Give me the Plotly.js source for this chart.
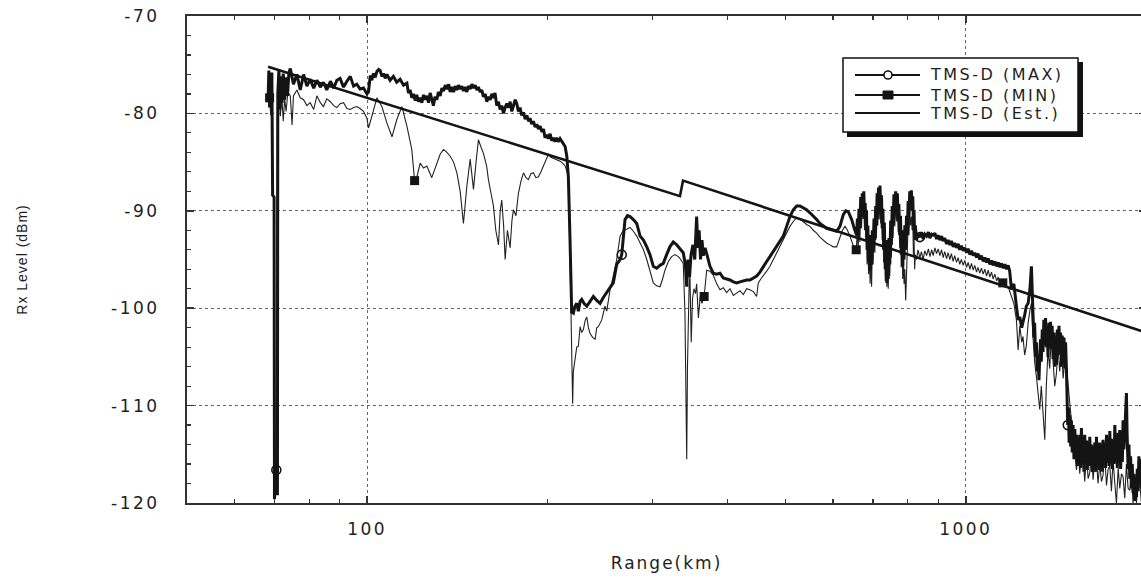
<!DOCTYPE html>
<html><head><meta charset="utf-8">
<script src="https://cdn.plot.ly/plotly-3.0.1.min.js"></script>
<style>
html,body{margin:0;padding:0;overflow:hidden;background:#fff;}
#chart{width:1150px;height:579px;}
.xtick text,.ytick text{letter-spacing:2.5px;}
.annotation-text{letter-spacing:2.5px;}
.g-xtitle text{letter-spacing:2px;}
.g-ytitle text{letter-spacing:1px;}
</style></head><body><div id="chart"></div><script>
// ---- data: [range km, level dBm] readings ----
const seriesNames = ['TMS-D (MAX)', 'TMS-D (MIN)', 'TMS-D (Est.)'];

const maxReadings = [
[68.3,-78.6],[68.5,-75.6],[68.7,-79.4],[68.9,-76.0],[69.1,-78.8],[69.3,-75.8],[69.5,-88.4],[69.9,-88.6],[70.0,-119.6],[70.3,-117.5],[70.5,-116.6],[70.8,-119.2],[70.9,-78.0],[71.2,-75.5],[71.5,-79.6],[71.8,-76.2],[72.1,-78.9],[72.4,-75.9],[72.8,-78.6],[73.2,-76.3],[73.6,-78.2],[74.0,-75.8],[74.4,-75.4],[75.3,-77.0],[76.3,-76.0],[77.3,-77.6],[78.3,-76.0],[79.3,-77.2],[80.3,-76.5],[81.4,-77.4],[82.4,-76.6],[83.5,-77.3],[84.5,-76.8],[85.6,-77.6],[86.8,-76.7],[87.9,-77.4],[89.0,-76.6],[90.1,-76.4],[91.3,-77.3],[92.5,-76.7],[93.7,-76.2],[94.9,-77.2],[96.1,-77.0],[97.3,-77.5],[98.6,-77.4],[99.9,-78.0],
[100.5,-77.8],[101.2,-76.1],[101.8,-76.6],[102.4,-75.9],[103.1,-76.3],[103.8,-75.7],[104.5,-75.5],[105.1,-75.6],[105.8,-76.2],[106.5,-75.9],[107.2,-76.4],[107.9,-76.0],[109.2,-76.6],[110.6,-76.2],[112.0,-76.8],[113.5,-76.5],[115.0,-77.1],[116.5,-76.9],[117.2,-77.9],[118.0,-77.6],[118.7,-78.4],[119.5,-78.0],[120.3,-78.7],[121.0,-78.1],[121.8,-78.8],[122.6,-78.4],[123.4,-78.9],[124.2,-78.1],[125.0,-78.6],[125.8,-78.2],[126.6,-78.9],[127.4,-77.9],[128.2,-78.7],[129.0,-79.2],[129.8,-78.3],[130.7,-78.6],[131.5,-77.8],[132.4,-78.2],[133.3,-77.4],[134.1,-77.7],[135.0,-77.1],[135.9,-77.5],[136.8,-77.0],[137.6,-77.8],[138.5,-77.3],[139.4,-77.8],[140.3,-77.2],[141.2,-77.6],[142.1,-77.1],[143.0,-77.5],[143.9,-77.2],[144.8,-77.7],[145.7,-77.3],[146.7,-77.8],[147.6,-77.2],[148.6,-77.5],[149.6,-77.0],[150.5,-77.4],[151.5,-77.1],[152.5,-77.6],[153.4,-77.3],[154.4,-77.8],[155.4,-77.6],[156.4,-78.3],[157.4,-78.0],[158.4,-78.8],[159.4,-78.3],[160.5,-78.6],[161.5,-78.0],[162.5,-78.4],[163.5,-77.9],[164.6,-79.2],[165.7,-78.8],[166.7,-79.6],[167.8,-79.2],[168.9,-80.0],[170.0,-79.4],[171.1,-79.0],[172.2,-79.4],[173.3,-78.8],[174.4,-79.8],[175.5,-79.2],[176.7,-78.6],[177.8,-79.0],[178.9,-79.8],[180.0,-79.4],[181.2,-80.2],[182.4,-79.9],[183.6,-80.6],[184.8,-80.2],[186.0,-80.8],[187.1,-80.5],[188.3,-81.1],[189.5,-80.8],[190.8,-81.4],[192.0,-81.1],[193.2,-81.6],[194.5,-81.3],[195.8,-81.9],[197.0,-81.6],[198.2,-82.5],[199.5,-82.2],[200.8,-82.6],[202.1,-82.1],[203.4,-82.8],[204.7,-82.5],[206.0,-82.9],[207.3,-82.5],[208.6,-82.9],[210.0,-82.6],[212.0,-83.0],[214.1,-83.4],[215.5,-84.4],[216.8,-86.5],
[218.2,-93.0],[219.6,-100.4],[221.0,-100.5],[222.4,-99.8],[223.9,-99.5],[225.3,-100.3],[226.8,-99.3],[228.2,-99.1],[230.2,-99.5],[232.7,-99.8],[235.7,-99.3],[238.7,-98.8],[241.8,-99.2],[244.9,-99.5],[248.0,-98.9],[251.3,-98.4],[254.5,-98.0],[257.7,-97.4],[261.1,-95.5],[264.5,-95.0],[266.2,-94.5],[268.0,-92.5],[269.6,-90.9],[272.2,-90.5],[274.9,-90.6],[278.4,-90.9],[282.0,-91.3],[285.7,-92.6],[289.4,-93.0],[293.1,-93.7],[296.8,-94.5],[300.6,-95.7],[304.5,-95.9],[308.4,-95.6],[312.3,-95.4],[316.4,-94.5],[320.4,-93.7],[324.6,-93.2],[328.9,-93.5],[333.0,-93.9],[337.3,-94.3],[340.0,-95.5],[341.8,-97.8],[343.5,-95.0],[345.5,-96.8],[347.5,-94.5],[350.1,-93.5],[352.5,-95.0],[355.1,-90.6],[356.8,-93.8],[358.5,-92.0],[360.5,-95.0],[362.5,-93.0],[364.3,-94.6],[366.7,-93.8],[369.1,-94.4],[373.8,-95.7],[378.6,-96.4],[383.6,-96.5],[388.5,-96.4],[393.4,-96.9],[398.6,-97.0],[403.7,-97.1],[408.9,-97.3],[414.2,-97.4],[419.5,-97.3],[424.9,-97.2],[430.4,-97.1],[435.9,-97.1],[441.6,-96.9],[447.3,-96.7],[453.0,-96.3],[458.8,-95.7],[464.8,-95.2],[470.8,-94.7],[476.9,-94.2],[483.1,-93.7],[489.3,-93.2],[495.5,-92.6],[502.0,-91.6],[508.4,-90.6],[515.0,-89.9],[521.7,-89.5],[528.4,-89.5],[535.1,-89.7],[542.0,-89.9],[549.1,-90.2],[556.2,-90.5],[563.4,-90.9],[570.6,-91.3],[577.9,-91.6],[585.3,-91.8],[592.9,-91.9],[600.6,-92.0],[608.5,-92.1],[616.3,-91.6],[620.2,-91.0],[624.2,-90.4],[630.2,-90.0],[636.3,-90.1],[640.5,-90.5],[644.7,-90.9],[651.0,-91.8],
[657.1,-92.5],[659.0,-90.8],[661.0,-92.6],[663.0,-89.8],[665.3,-91.8],[667.5,-88.6],[669.5,-90.6],[671.5,-88.2],[673.8,-89.5],[675.5,-88.0],[677.3,-90.8],[679.0,-89.2],[680.9,-91.5],[682.5,-90.0],[684.0,-94.0],[686.0,-91.5],[688.0,-95.2],[690.0,-92.5],[692.0,-96.1],[694.0,-93.0],[696.0,-95.5],[698.0,-92.0],[700.0,-94.2],[702.5,-90.8],[704.9,-93.0],[707.0,-89.5],[709.0,-91.5],[711.0,-88.2],[712.8,-90.2],[714.8,-87.6],[716.7,-89.6],[718.8,-87.4],[721.0,-90.0],[723.0,-88.4],[725.0,-91.8],[727.0,-89.8],[729.0,-94.0],[731.0,-91.2],[733.5,-96.0],[736.0,-93.0],[738.0,-97.4],[740.0,-94.0],[742.0,-97.0],[744.0,-92.8],[746.5,-95.5],[749.0,-91.0],[751.0,-93.5],[753.5,-89.5],[756.0,-91.5],[758.5,-88.3],[761.0,-90.3],[763.5,-88.0],[766.3,-89.8],[768.5,-88.2],[771.0,-90.9],[773.0,-89.3],[775.5,-92.5],[778.0,-90.5],[780.0,-94.5],[782.5,-92.0],[784.5,-95.7],[786.5,-92.8],[788.5,-95.0],[791.0,-91.5],[793.5,-94.0],[796.0,-90.5],[798.5,-92.5],[801.0,-89.0],[803.5,-90.8],[806.0,-88.0],[808.5,-90.0],[811.0,-87.9],[813.5,-89.8],[815.5,-88.5],[817.5,-91.5],[819.5,-90.0],[821.5,-93.0],[823.5,-91.5],[827.5,-93.0],
[832,-92.4],[838.1,-92.7],[843,-92.2],[848.8,-92.9],[854,-92.4],[860,-92.6],[866,-92.2],[871,-92.8],[877,-92.4],[882.1,-92.5],[888,-92.3],[893.7,-92.9],[899,-92.5],[905,-93.0],[911,-92.6],[916.6,-93.1],[922,-92.8],[928.7,-93.4],[934,-93.0],[940.5,-93.5],[946,-93.1],[952.5,-93.7],[958,-93.3],[965,-93.8],[971,-93.4],[977,-94.0],[983,-93.6],[990,-94.1],[996,-93.8],[1003,-94.3],[1009,-93.9],[1016,-94.5],[1022,-94.1],[1029,-94.6],[1035,-94.3],[1042,-94.8],[1048,-94.4],[1055,-95.0],[1062,-94.6],[1069,-95.2],[1076,-94.8],[1083,-95.3],[1090,-94.9],[1097,-95.5],[1104,-95.1],[1111,-95.6],[1118,-95.2],[1126,-95.7],[1133,-95.3],[1140,-95.8],[1147,-95.4],[1155,-95.9],[1162,-95.5],[1170,-96.0],[1177,-95.6],[1184,-96.2],
[1192,-98.1],[1203,-97.5],[1215,-99.8],[1223,-101.2],[1231,-100.9],[1240,-102.0],[1254,-100.7],[1262,-99.8],[1271,-99.5],[1280,-98.0],
[1287,-95.7],[1292,-98.5],[1295,-100.2],[1299,-103.0],[1303,-101.5],[1308,-105.0],[1312,-103.5],[1316,-106.5],[1320,-104.8],[1325,-107.4],[1329,-105.0],[1333,-103.2],[1337,-105.5],[1342,-102.2],[1346,-104.5],[1350,-101.2],[1355,-103.8],[1359,-101.0],[1364,-104.0],[1368,-101.8],[1372,-105.0],[1377,-101.5],[1381,-103.8],[1385,-101.4],[1390,-104.2],[1394,-101.8],[1399,-105.2],[1404,-102.5],[1408,-106.0],[1413,-103.0],[1417,-105.8],[1422,-102.2],[1426,-104.8],[1431,-101.8],[1435,-104.5],[1440,-102.5],[1445,-106.0],[1449,-102.8],[1454,-105.2],[1459,-103.0],[1463,-106.2],[1468,-103.5],[1473,-106.5],[1477,-109.0],
[1480,-112.0],[1484,-110.2],[1488,-113.8],[1492,-111.0],[1497,-114.2],[1501,-111.5],[1506,-114.8],[1511,-112.0],[1516,-115.5],[1521,-112.4],[1526,-114.8],[1531,-113.0],[1536,-116.2],[1540,-113.4],[1545,-115.8],[1550,-113.0],[1555,-116.4],[1560,-112.3],[1565,-115.6],[1570,-113.2],[1575,-116.8],[1580,-113.0],[1586,-115.8],[1591,-113.6],[1596,-116.6],[1601,-114.0],[1606,-116.2],[1611,-113.2],[1616,-116.0],[1621,-114.0],[1627,-116.8],[1632,-114.2],[1637,-116.5],[1642,-113.8],[1648,-116.8],[1653,-113.2],[1658,-116.0],[1663,-114.2],[1669,-116.6],[1674,-113.8],[1680,-116.4],[1685,-114.0],[1690,-116.8],[1695,-113.5],[1701,-116.2],[1706,-113.8],[1712,-116.4],[1718,-113.0],[1723,-115.9],[1729,-113.2],[1735,-116.2],[1740,-112.6],[1746,-115.8],[1751,-113.4],[1757,-116.5],[1762,-113.8],[1768,-116.0],[1774,-112.0],[1780,-115.8],[1785,-113.0],[1791,-116.4],[1797,-112.8],[1803,-115.5],[1808,-112.5],[1814,-116.5],[1820,-113.0],[1826,-115.8],[1831,-111.5],[1837,-114.5],[1843,-112.8],[1849,-110.5],[1855,-108.7],[1860,-113.0],[1867,-116.5],[1873,-114.0],[1879,-117.5],[1885,-115.2],[1891,-118.5],[1897,-116.0],[1903,-119.0],[1909,-117.0],[1915,-119.8],[1921,-117.5],[1928,-119.4],[1934,-116.5],[1940,-118.8],[1946,-115.2],[1953,-117.5],[1959,-115.5],[1965,-118.5]
];

const minReadings = [
[68.3,-78.0],[68.7,-78.4],[69.0,-80.2],[69.3,-78.5],[69.5,-88.4],[69.9,-88.6],[70.0,-119.0],[70.4,-117.4],[70.8,-80.5],[71.2,-77.5],[71.6,-80.3],[72.0,-78.2],[72.4,-80.8],[72.8,-78.5],[73.2,-79.8],[73.7,-77.8],[74.4,-78.2],[74.9,-81.2],[75.3,-78.2],[76.3,-77.6],[77.3,-78.4],[78.3,-78.6],[79.3,-79.2],[80.3,-78.9],[81.4,-79.6],[82.4,-78.2],[83.5,-78.9],[84.5,-79.3],[85.6,-78.5],[86.8,-78.8],[87.9,-79.2],[89.0,-79.4],[90.1,-79.0],[91.3,-78.9],[92.5,-79.5],[93.7,-79.6],[94.9,-79.4],[96.1,-79.3],[97.3,-79.5],[98.6,-79.8],[99.9,-80.5],[100.5,-81.5],[101.8,-80.3],[103.8,-78.4],[105.8,-79.3],[107.9,-81.0],[110.0,-82.4],[112.1,-80.6],[114.3,-79.3],[116.5,-81.3],[118.7,-83.7],[120.0,-86.9],[121.1,-86.5],[122.6,-85.1],[124.2,-85.6],[125.8,-85.4],[128.2,-86.6],[130.7,-85.1],[132.4,-84.2],[134.1,-83.7],[135.9,-84.0],[137.6,-84.4],[139.4,-85.0],[141.2,-86.1],[143.0,-88.0],[144.8,-91.3],[146.7,-87.5],[148.6,-84.7],[150.5,-87.8],[152.0,-85.0],[153.4,-82.7],[155.0,-83.5],[156.4,-84.1],[158.4,-85.5],[159.4,-86.8],[161.0,-88.2],[162.5,-89.5],[164.0,-92.0],[165.7,-93.5],[166.8,-90.0],[167.8,-88.9],[169.0,-91.5],[170.0,-95.0],[171.5,-92.0],[173.3,-93.8],[174.5,-91.0],[175.5,-89.9],[177.2,-90.5],[178.9,-88.2],[180.6,-87.0],[182.4,-86.1],[184.2,-86.6],[185.9,-86.8],[187.7,-86.2],[189.5,-86.1],[191.3,-86.6],[193.2,-86.5],[195.1,-86.0],[197.0,-85.4],[198.9,-84.8],[200.8,-84.2],[202.7,-84.5],[204.7,-84.6],[207.3,-84.8],[210.0,-84.9],[212.0,-85.1],[214.1,-85.4],[215.5,-85.9],[216.8,-86.6],
[218.2,-95.0],[219.6,-105.0],[220.4,-109.8],[221.0,-106.5],[222.4,-105.3],[223.9,-104.0],[225.3,-103.9],[226.8,-101.9],[228.2,-102.5],[229.7,-102.2],[231.2,-101.3],[232.7,-100.9],[234.2,-102.0],[235.7,-102.6],[238.0,-103.0],[240.3,-103.2],[241.8,-102.0],[243.3,-101.9],[246.5,-101.2],[249.6,-99.8],[251.3,-100.3],[254.5,-98.1],[257.7,-96.7],[261.1,-95.0],[264.5,-92.6],[267.9,-92.0],[271.4,-91.9],[274.9,-91.7],[278.4,-92.1],[282.0,-92.6],[285.7,-93.3],[289.4,-94.0],[293.1,-95.0],[296.8,-96.2],[300.6,-97.4],[304.5,-97.7],[308.4,-97.8],[311.5,-97.0],[314.4,-96.1],[318.5,-95.2],[322.6,-94.7],[326.7,-94.5],[330.9,-94.7],[334.0,-95.0],[337.3,-95.4],[339.5,-100.5],[340.8,-108.0],[341.8,-115.5],[342.8,-106.0],[343.8,-100.0],[345.0,-97.5],[346.1,-96.7],[347.8,-103.5],[349.5,-99.0],[351.5,-98.0],[353.5,-98.5],[355.1,-97.5],[357.5,-101.0],[360.0,-98.8],[362.5,-99.5],[365.5,-98.8],[369.1,-96.1],[373.8,-96.2],[378.6,-96.6],[383.6,-97.5],[388.5,-98.1],[393.4,-97.9],[398.6,-98.4],[403.7,-98.0],[409.0,-98.7],[414.2,-98.4],[419.5,-98.2],[424.9,-98.6],[430.4,-98.0],[435.9,-98.1],[441.6,-98.3],[447.3,-98.8],[450.1,-97.4],[454.5,-97.0],[458.8,-96.7],[464.8,-96.2],[470.8,-95.7],[476.9,-95.0],[483.1,-94.3],[489.3,-93.7],[495.5,-93.0],[502.0,-92.3],[508.4,-91.6],[515.0,-91.1],[521.7,-90.7],[528.4,-90.9],[535.1,-91.1],[542.0,-91.4],[549.1,-91.6],[556.2,-92.0],[563.4,-92.3],[570.6,-92.7],[577.9,-93.0],[585.3,-93.3],[592.9,-93.5],[600.6,-93.7],[608.5,-93.7],[612.4,-93.2],[616.3,-92.6],[622.2,-92.0],[628.3,-91.6],[634.3,-92.0],[640.5,-92.6],[648.0,-93.5],
[656.0,-94.0],[659.0,-92.2],[661.0,-94.0],[663.0,-91.0],[665.3,-93.2],[667.5,-89.8],[669.5,-91.8],[671.5,-89.5],[673.8,-90.8],[675.5,-89.3],[677.3,-92.0],[679.0,-90.5],[680.9,-93.0],[682.5,-91.5],[684.0,-95.5],[686.0,-93.0],[688.0,-96.5],[690.0,-94.0],[692.0,-97.5],[694.0,-94.5],[696.0,-97.8],[698.0,-93.5],[700.0,-95.5],[702.5,-92.0],[704.9,-94.3],[707.0,-90.8],[709.0,-92.8],[711.0,-89.5],[712.8,-91.5],[714.8,-88.8],[716.7,-90.9],[718.8,-88.6],[721.0,-91.3],[723.0,-89.7],[725.0,-93.0],[727.0,-91.0],[729.0,-95.3],[731.0,-92.5],[733.5,-97.2],[736.0,-94.3],[738.0,-97.8],[740.0,-95.0],[742.0,-98.0],[744.0,-94.0],[746.5,-96.7],[749.0,-92.3],[751.0,-94.8],[753.5,-90.8],[756.0,-92.8],[758.5,-89.6],[761.0,-91.6],[763.5,-89.3],[766.3,-91.1],[768.5,-89.5],[771.0,-92.2],[773.0,-90.6],[775.5,-93.8],[778.0,-91.8],[780.0,-95.8],[782.5,-93.3],[784.5,-97.0],[786.5,-94.0],[788.5,-97.5],[791.0,-96.0],[793.5,-99.2],[796.0,-96.0],[798.5,-93.8],[801.0,-91.5],[803.5,-92.5],[806.0,-90.6],[808.5,-91.5],[811.0,-90.6],[813.5,-92.0],[815.5,-91.0],[817.5,-94.5],[819.5,-93.0],[821.5,-96.0],[823.5,-94.5],[827.5,-95.0],
[832,-94.0],[838.1,-94.8],[843,-94.2],[848.8,-95.0],[854,-94.1],[860,-94.6],[866,-93.9],[871,-94.7],[877,-94.0],[882.1,-94.6],[888,-93.8],[893.7,-94.4],[899,-93.9],[905,-94.6],[911,-94.0],[916.6,-94.8],[922,-94.2],[928.7,-94.9],[934,-94.3],[940.5,-95.0],[946,-94.4],[952.5,-95.2],[958,-94.6],[965,-95.3],[971,-94.8],[977,-95.5],[983,-95.0],[990,-95.6],[996,-95.1],[1003,-95.8],[1009,-95.3],[1016,-96.0],[1022,-95.4],[1029,-96.1],[1035,-95.6],[1042,-96.3],[1048,-95.8],[1055,-96.4],[1062,-95.9],[1069,-96.5],[1076,-96.0],[1083,-96.7],[1090,-96.1],[1097,-96.8],[1104,-96.3],[1111,-97.0],[1118,-96.5],[1126,-97.2],[1133,-96.8],[1140,-97.4],
[1153,-97.4],[1169,-97.7],[1180,-98.0],[1192,-98.8],[1203,-99.5],[1215,-101.2],[1223,-104.3],[1231,-101.8],[1240,-103.5],[1246,-102.9],[1254,-104.8],[1262,-103.9],[1271,-101.5],[1280,-100.2],[1287,-99.5],[1295,-103.0],[1303,-105.5],[1312,-107.0],[1320,-109.0],[1329,-110.4],[1337,-108.0],[1346,-111.5],[1355,-113.5],[1363,-108.0],[1372,-104.3],[1381,-106.2],[1390,-102.6],[1399,-105.5],[1408,-108.0],[1417,-106.7],[1426,-104.0],[1435,-106.5],[1445,-104.0],[1454,-107.2],[1463,-105.5],[1473,-106.0],[1482,-108.2],[1492,-109.8],[1501,-111.5],[1511,-112.5],[1521,-115.0],[1531,-116.6],[1540,-114.0],[1550,-117.0],[1560,-115.0],[1570,-115.2],[1580,-117.8],[1591,-115.0],[1601,-117.5],[1611,-116.9],[1621,-114.8],[1632,-117.6],[1642,-115.3],[1653,-115.5],[1663,-118.0],[1674,-116.0],[1685,-117.8],[1695,-117.2],[1706,-115.0],[1718,-118.2],[1729,-116.5],[1740,-116.2],[1751,-118.8],[1762,-115.6],[1774,-118.0],[1785,-120.0],[1797,-116.4],[1808,-118.5],[1820,-117.0],[1831,-117.3],[1843,-119.5],[1855,-116.0],[1867,-118.5],[1879,-118.7],[1891,-117.0],[1903,-120.0],[1915,-118.0],[1928,-120.0],[1940,-117.5],[1953,-118.0],[1965,-120.0]
];

const estKm = [68.3, 333.0, 337.0, 2000];
const estDbm = [-75.2, -88.5, -86.9, -102.5];

const maxMarkKm = [70.5, 266.2, 838.1, 1480];
const maxMarkDbm = [-116.6, -94.5, -92.7, -112.0];
const minMarkKm = [68.7, 120.0, 365.5, 656.0, 1153];
const minMarkDbm = [-78.4, -86.9, -98.8, -94.0, -97.4];

const xTickVals = [100, 1000];
const xTickText = ['100', '1000'];
const xMinorVals = [60,70,80,90,200,300,400,500,600,700,800,900,2000];
const yTickVals = [-120,-110,-100,-90,-80,-70];
const yTickText = ['-120','-110','-100','-90','-80','-70'];

// ---- layout helpers ----
const W = 1150, H = 579, ML = 187, MR = 4, MT = 16, MB = 76;
const PW = W - ML - MR, PH = H - MT - MB;
const px = v => (v - ML) / PW;          // pixel -> paper x
const py = v => (H - MB - v) / PH;      // pixel -> paper y

const ink = '#141414';
const traces = [
  {x: minReadings.map(p => p[0]), y: minReadings.map(p => p[1]), name: seriesNames[1], mode: 'lines',
   line: {color: '#222', width: 1.1}, showlegend: false},
  {x: maxReadings.map(p => p[0]), y: maxReadings.map(p => p[1]), name: seriesNames[0], mode: 'lines',
   line: {color: ink, width: 3}, showlegend: false},
  {x: estKm, y: estDbm, name: seriesNames[2], mode: 'lines', line: {color: ink, width: 2.6}, showlegend: false},
  {x: maxMarkKm, y: maxMarkDbm, name: seriesNames[0], mode: 'markers', showlegend: false,
   marker: {symbol: 'circle-open', size: 9, color: ink, line: {width: 1.6, color: ink}}},
  {x: minMarkKm, y: minMarkDbm, name: seriesNames[1], mode: 'markers', showlegend: false,
   marker: {symbol: 'square', size: 9, color: ink}}
];

const axisCommon = {
  showline: true, linecolor: '#333', linewidth: 2, mirror: 'allticks',
  ticks: 'inside', ticklen: 7, tickwidth: 1.5, tickcolor: '#333',
  showgrid: true, gridcolor: '#666', griddash: 'dot', gridwidth: 1, zeroline: false,
  tickfont: {family: 'DejaVu Sans', size: 17, color: '#1e1e1e'}
};

const rowY = [py(75), py(95), py(113)];
const lx0 = px(855), lx1 = px(920), lmx = px(888), ltx = px(928);
const shapes = [
  {type: 'rect', xref: 'paper', yref: 'paper', x0: px(847), x1: px(1083), y0: py(137), y1: py(62),
   fillcolor: '#111', line: {width: 0}},
  {type: 'rect', xref: 'paper', yref: 'paper', x0: px(843), x1: px(1078), y0: py(132), y1: py(58),
   fillcolor: '#fff', line: {color: '#111', width: 1.5}}
];
rowY.forEach(y => shapes.push({type: 'line', xref: 'paper', yref: 'paper', x0: lx0, x1: lx1, y0: y, y1: y,
  line: {color: ink, width: 2}}));
shapes.push({type: 'circle', xref: 'paper', yref: 'paper', xsizemode: 'pixel', ysizemode: 'pixel',
  xanchor: lmx, yanchor: rowY[0], x0: -4, x1: 4, y0: -4, y1: 4, fillcolor: '#fff', line: {color: ink, width: 1.6}});
shapes.push({type: 'rect', xref: 'paper', yref: 'paper', xsizemode: 'pixel', ysizemode: 'pixel',
  xanchor: lmx, yanchor: rowY[1], x0: -5, x1: 5, y0: -4, y1: 4, fillcolor: ink, line: {color: ink, width: 1}});

const annotations = seriesNames.map((n, i) => ({
  text: n, xref: 'paper', yref: 'paper', x: ltx, y: rowY[i], xanchor: 'left', yanchor: 'middle',
  showarrow: false, font: {family: 'DejaVu Sans', size: 16, color: '#1e1e1e'}
}));

const layout = {
  width: W, height: H,
  margin: {l: ML, r: MR, t: MT, b: MB},
  paper_bgcolor: '#fff', plot_bgcolor: '#fff',
  showlegend: false,
  xaxis: Object.assign({}, axisCommon, {
    type: 'log', range: [Math.log10(50), Math.log10(2000)],
    tickmode: 'array', tickvals: xTickVals, ticktext: xTickText,
    ticklabelstandoff: 10,
    minor: {tickmode: 'array', tickvals: xMinorVals, ticks: 'inside', ticklen: 4, tickwidth: 1.2, tickcolor: '#333', showgrid: false},
    title: {text: 'Range(km)', font: {family: 'DejaVu Sans', size: 17, color: '#1e1e1e'}, standoff: 19}
  }),
  yaxis: Object.assign({}, axisCommon, {
    range: [-120, -70],
    tickmode: 'array', tickvals: yTickVals, ticktext: yTickText,
    ticklabelstandoff: 22,
    minor: {dtick: 2, ticks: 'inside', ticklen: 4, tickwidth: 1.2, tickcolor: '#333', showgrid: false},
    title: {text: 'Rx Level (dBm)', font: {family: 'Liberation Sans', size: 14, color: '#1e1e1e'}, standoff: 80}
  }),
  shapes: shapes,
  annotations: annotations
};

Plotly.newPlot('chart', traces, layout, {displayModeBar: false, staticPlot: true});
</script></body></html>
